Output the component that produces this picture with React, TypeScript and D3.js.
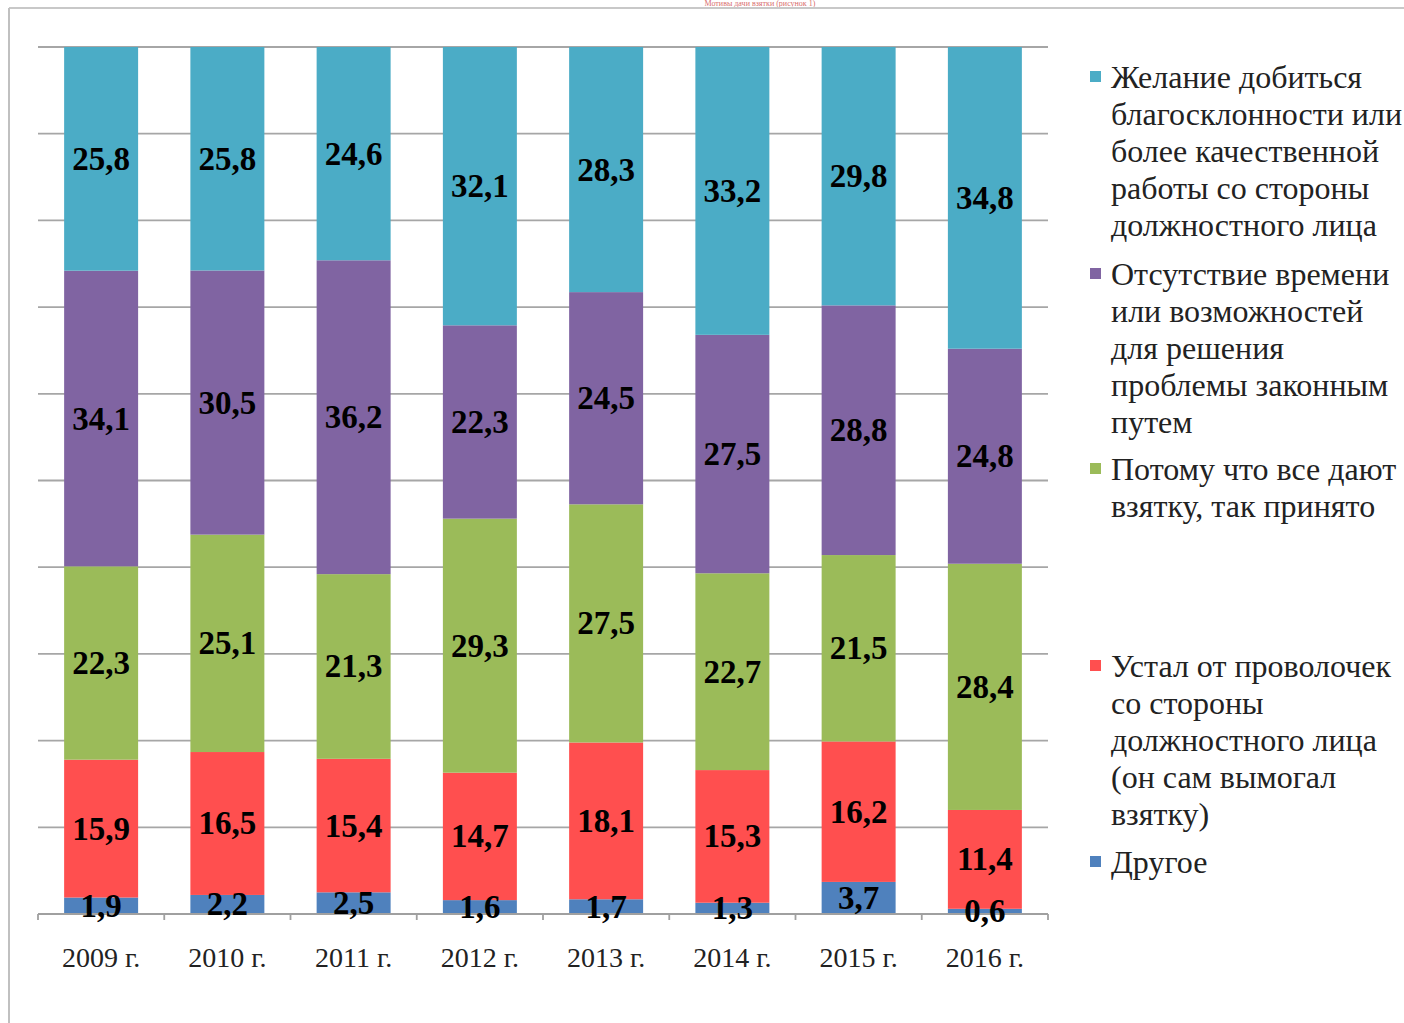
import React from "react";
import * as d3 from "d3";

const years = ["2009 г.", "2010 г.", "2011 г.", "2012 г.", "2013 г.", "2014 г.", "2015 г.", "2016 г."];
const seriesNames = [
  "Другое",
  "Устал от проволочек со стороны должностного лица (он сам вымогал взятку)",
  "Потому что все дают взятку, так принято",
  "Отсутствие времени или возможностей для решения проблемы законным путем",
  "Желание добиться благосклонности или более качественной работы со стороны должностного лица",
];
const other = [1.9, 2.2, 2.5, 1.6, 1.7, 1.3, 3.7, 0.6];
const tired = [15.9, 16.5, 15.4, 14.7, 18.1, 15.3, 16.2, 11.4];
const everyone = [22.3, 25.1, 21.3, 29.3, 27.5, 22.7, 21.5, 28.4];
const noTime = [34.1, 30.5, 36.2, 22.3, 24.5, 27.5, 28.8, 24.8];
const favor = [25.8, 25.8, 24.6, 32.1, 28.3, 33.2, 29.8, 34.8];
const colors = ["#4F81BD", "#FF4F4F", "#9BBB59", "#8064A2", "#4BACC6"];

const legendItems = [
  { s: 4, lines: ["Желание добиться", "благосклонности или", "более качественной", "работы со стороны", "должностного лица"], y: 77 },
  { s: 3, lines: ["Отсутствие времени", "или возможностей", "для решения", "проблемы законным", "путем"], y: 274 },
  { s: 2, lines: ["Потому что все дают", "взятку, так принято"], y: 469 },
  { s: 1, lines: ["Устал от проволочек", "со стороны", "должностного лица", "(он сам вымогал", "взятку)"], y: 666 },
  { s: 0, lines: ["Другое"], y: 862 },
];

const allSeries = [other, tired, everyone, noTime, favor];

export default function App() {
  const W = 1404, H = 1023;
  const x0 = 38, x1 = 1048, yTop = 47, yBot = 914;
  const rows = years.map((yr, i) => {
    const r: any = { year: yr };
    allSeries.forEach((s, k) => (r["s" + k] = s[i]));
    return r;
  });
  const keys = allSeries.map((_, k) => "s" + k);
  const stacked = d3.stack().keys(keys).offset(d3.stackOffsetExpand)(rows);
  const x = d3.scaleBand().domain(years).range([x0, x1]).paddingInner(0.414).paddingOuter(0.207);
  const y = d3.scaleLinear().domain([0, 1]).range([yBot, yTop]);
  const grid = d3.range(0, 1.0001, 0.1);
  const step = x.step();
  const ff = "'Liberation Serif', 'DejaVu Serif', serif";
  const ts = { fontFamily: ff } as React.CSSProperties;

  return (
    <svg width={W} height={H} style={{ position: "absolute", left: 0, top: 0, background: "#fff", fontFamily: ff }}>
      <rect x={0} y={0} width={W} height={H} fill="#fff" />
      <text x={760} y={6} fill="#C00000" fontSize={8} textAnchor="middle" style={ts} opacity={0.6}>Мотивы дачи взятки (рисунок 1)</text>
      <line x1={9} x2={W} y1={8} y2={8} stroke="#c8c8c8" strokeWidth={2} />
      <line x1={9} x2={9} y1={8} y2={H} stroke="#c0c0c0" strokeWidth={2} />
      {grid.map((g, i) => (
        <line key={i} x1={x0} x2={x1} y1={y(g)} y2={y(g)} stroke="#a6a6a6" strokeWidth={1.8} />
      ))}
      {stacked.map((layer, k) => (
        <g key={k} fill={colors[k]}>
          {layer.map((d, i) => (
            <rect key={i} x={x(years[i])} width={x.bandwidth()} y={y(d[1])} height={y(d[0]) - y(d[1])} />
          ))}
        </g>
      ))}
      <line x1={x0} x2={x1} y1={yBot} y2={yBot} stroke="#a0a0a0" strokeWidth={1.8} />
      {d3.range(0, years.length + 1).map((i) => (
        <line key={i} x1={x0 + i * step} x2={x0 + i * step} y1={yBot} y2={yBot + 6} stroke="#a0a0a0" strokeWidth={1.8} />
      ))}
      {stacked.map((layer, k) => (
        <g key={"l" + k}>
          {layer.map((d, i) => (
            <text key={i} x={(x(years[i]) as number) + x.bandwidth() / 2} y={(y(d[0]) + y(d[1])) / 2 + 11}
              textAnchor="middle" fontSize={33} fontWeight="bold" fill="#000" style={ts}>
              {allSeries[k][i].toFixed(1).replace(".", ",")}
            </text>
          ))}
        </g>
      ))}
      {years.map((yr) => (
        <text key={yr} x={(x(yr) as number) + x.bandwidth() / 2} y={967} textAnchor="middle" fontSize={28} fill="#222" style={ts}>{yr}</text>
      ))}
      {legendItems.map((it) => (
        <g key={it.s}>
          <rect x={1090} y={it.y - 6} width={11} height={11} fill={colors[it.s]} />
          {it.lines.map((ln, j) => (
            <text key={j} x={1111} y={it.y + 11 + j * 37} fontSize={32} fill="#222" style={ts}>{ln}</text>
          ))}
        </g>
      ))}
    </svg>
  );
}
